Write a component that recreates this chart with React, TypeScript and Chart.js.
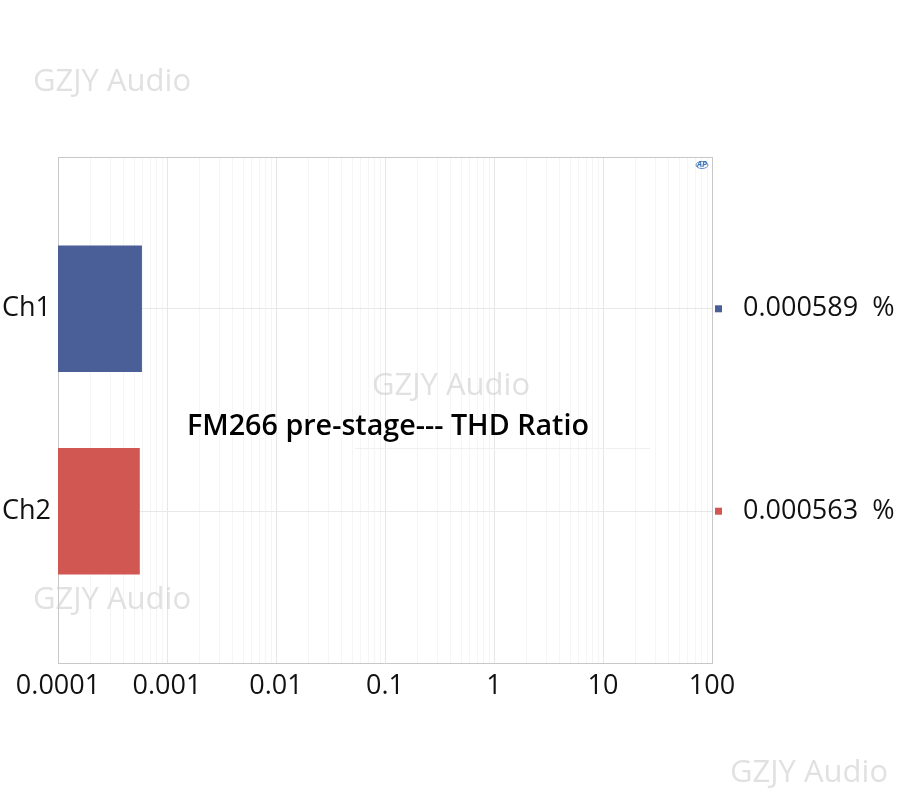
import { useEffect, useRef } from 'react';
import { Chart, registerables, type ChartConfiguration } from 'chart.js';

Chart.register(...registerables);

// data
const channels = ['Ch1', 'Ch2'];
const thdPercent = [0.000589, 0.000563];
const barColors = ['#4a5f98', '#d05752'];
const xTickLabels = ['0.0001', '0.001', '0.01', '0.1', '1', '10', '100'];
const chartTitle = 'FM266 pre-stage--- THD Ratio';
const watermark = 'GZJY Audio';

const FONT = '"Open Sans", "Noto Sans", sans-serif';
const xMin = Number(xTickLabels[0]);
const xMax = Number(xTickLabels[xTickLabels.length - 1]);

function isDecade(v: number): boolean {
  const l = Math.log10(v);
  return Math.abs(l - Math.round(l)) < 1e-9;
}

// square markers next to the right-hand value labels, top frame line, logo
const markerPlugin = {
  id: 'valueMarkers',
  afterDraw(chart: Chart) {
    const y2 = chart.scales.y2;
    const { ctx, chartArea } = chart;
    ctx.save();
    ctx.strokeStyle = '#c8c8c8';
    ctx.lineWidth = 1;
    ctx.beginPath();
    ctx.moveTo(chartArea.left, chartArea.top + 0.5);
    ctx.lineTo(chartArea.right, chartArea.top + 0.5);
    ctx.stroke();
    channels.forEach((_, i) => {
      const y = y2.getPixelForValue(i);
      ctx.fillStyle = barColors[i];
      ctx.fillRect(chartArea.right + 3, y - 3.5, 7, 7);
    });
    ctx.fillStyle = '#3b74b8';
    ctx.font = `italic bold 8px ${FONT}`;
    ctx.textAlign = 'center';
    ctx.textBaseline = 'middle';
    ctx.fillText('AP', chartArea.right - 10, chartArea.top + 8);
    ctx.strokeStyle = '#3b74b8';
    ctx.lineWidth = 0.8;
    ctx.beginPath();
    ctx.ellipse(chartArea.right - 10, chartArea.top + 8, 6, 3.5, 0, 0, Math.PI * 2);
    ctx.stroke();
    ctx.restore();
  },
};

export default function App() {
  const canvasRef = useRef<HTMLCanvasElement>(null);

  useEffect(() => {
    if (!canvasRef.current) return;
    const config: ChartConfiguration<'bar'> = {
      type: 'bar',
      data: {
        labels: channels,
        datasets: [{
          data: thdPercent.map((v, i) => ({ x: v, y: i })) as any,
          backgroundColor: barColors,
          borderWidth: 0,
          barPercentage: 0.625,
          categoryPercentage: 1,
        }],
      },
      plugins: [markerPlugin],
      options: {
        indexAxis: 'y',
        animation: false,
        responsive: true,
        maintainAspectRatio: false,
        layout: { padding: { top: 157, left: 0, right: 0, bottom: 0 } },
        plugins: {
          legend: { display: false },
          tooltip: { enabled: false },
          title: { display: false },
        },
        scales: {
          x: {
            type: 'logarithmic',
            min: xMin,
            max: xMax,
            afterFit: (s: any) => { s.height = 137; },
            afterBuildTicks: (s: any) => {
              const ticks: { value: number; major: boolean }[] = [];
              for (let e = Math.log10(xMin); e < Math.log10(xMax); e++) {
                for (let m = 1; m <= 9; m++) {
                  ticks.push({ value: m * Math.pow(10, e), major: m === 1 });
                }
              }
              ticks.push({ value: xMax, major: true });
              s.ticks = ticks;
            },
            ticks: {
              autoSkip: false,
              maxRotation: 0,
              padding: 7,
              color: '#111',
              font: { family: FONT, size: 27 },
              callback: (v: any) => {
                if (!isDecade(Number(v))) return '';
                const idx = Math.round(Math.log10(Number(v) / xMin));
                return xTickLabels[idx];
              },
            },
            grid: {
              color: (c: any) => (c.tick && isDecade(c.tick.value) ? '#e6e6e6' : '#f5f5f5'),
              drawTicks: false,
            },
            border: { color: '#c8c8c8', width: 1 },
          },
          y: {
            type: 'linear',
            min: -0.75,
            max: 1.75,
            reverse: true,
            offset: false,
            afterFit: (s: any) => { s.width = 58; },
            afterBuildTicks: (s: any) => {
              s.ticks = channels.map((_, i) => ({ value: i }));
            },
            ticks: {
              padding: 7,
              color: '#111',
              font: { family: FONT, size: 27 },
              callback: (v: any) => channels[Number(v)] ?? '',
            },
            grid: { color: '#e8e8e8', drawTicks: false, offset: false },
            border: { color: '#c8c8c8', width: 1 },
          },
          y2: {
            type: 'linear',
            position: 'right',
            min: -0.75,
            max: 1.75,
            reverse: true,
            offset: false,
            afterFit: (s: any) => { s.width = 188; },
            afterBuildTicks: (s: any) => {
              s.ticks = channels.map((_, i) => ({ value: i }));
            },
            ticks: {
              padding: 31,
              color: '#111',
              font: { family: FONT, size: 27 },
              callback: (v: any) => {
                const val = thdPercent[Number(v)];
                return val === undefined ? '' : `${val.toFixed(6)}  %`;
              },
            },
            grid: { display: false, drawTicks: false, offset: false },
            border: { color: '#c8c8c8', width: 1 },
          },
        },
      },
    };
    const chart = new Chart(canvasRef.current, config);
    return () => { chart.destroy(); };
  }, []);

  const mark = (left: number, top: number) => (
    <div
      style={{
        position: 'absolute', left, top, fontFamily: FONT, fontSize: 31,
        color: 'rgba(205,205,205,0.6)', whiteSpace: 'nowrap', pointerEvents: 'none',
        lineHeight: '1',
      }}
    >
      {watermark}
    </div>
  );

  return (
    <div style={{ position: 'absolute', left: 0, top: 0, width: 900, height: 800, background: '#fff' }}>
      <canvas ref={canvasRef} />
      {mark(33, 64)}
      {mark(372, 368)}
      {mark(33, 582)}
      {mark(730, 755)}
      <div
        style={{
          position: 'absolute', left: 187, top: 407, fontFamily: FONT, fontSize: 28.7,
          fontWeight: 600, color: '#000', whiteSpace: 'nowrap', lineHeight: '1.2',
        }}
      >
        {chartTitle}
      </div>
      <div style={{ position: 'absolute', left: 355, top: 448, width: 295, height: 1, background: '#f0f0f0' }} />
    </div>
  );
}
